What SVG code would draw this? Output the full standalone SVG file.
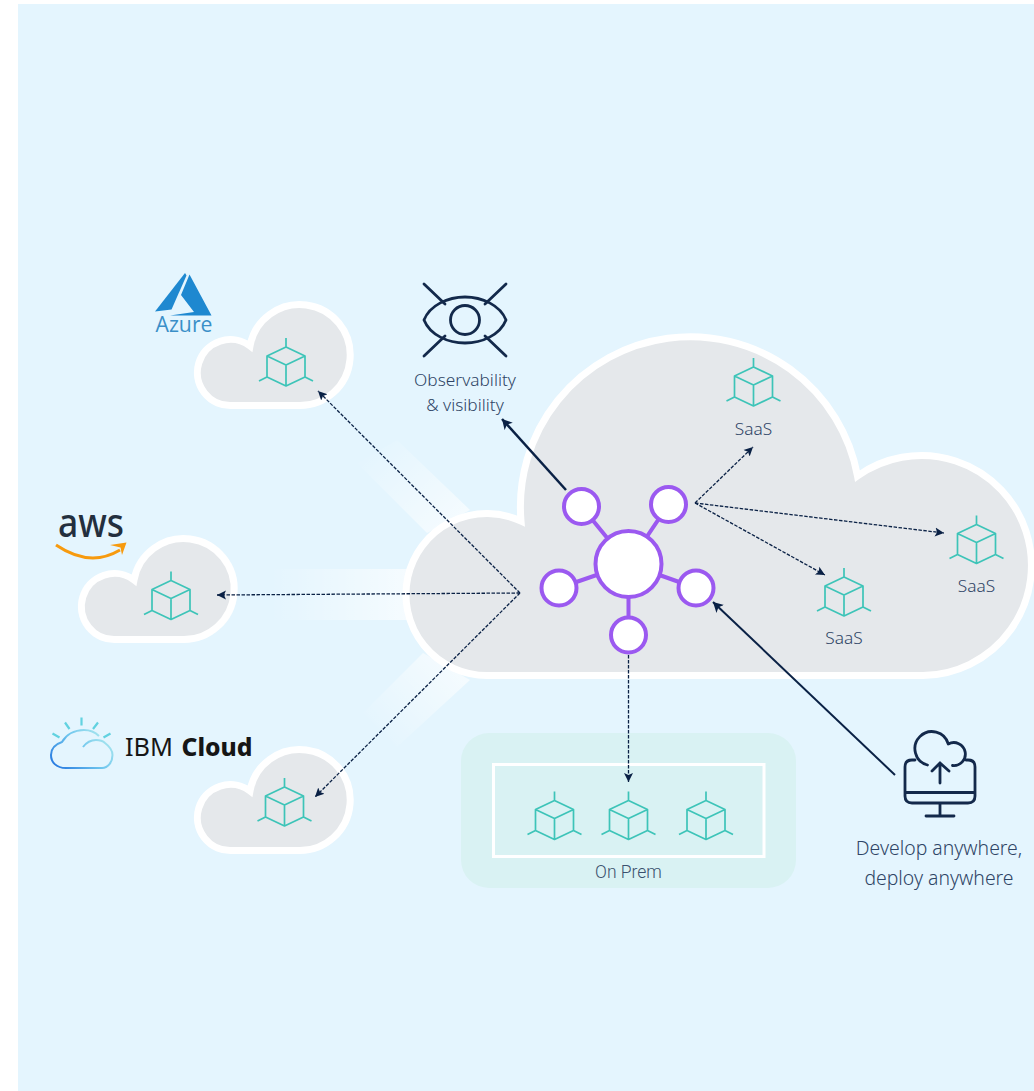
<svg xmlns="http://www.w3.org/2000/svg" width="1034" height="1091" viewBox="0 0 1034 1091">
<style>
.lbl{font-family:"Noto Sans","Open Sans",sans-serif;font-weight:300;fill:#2f4566;text-anchor:middle}
.cloud{fill:#e5e8eb;stroke:#fff;stroke-width:7;stroke-miterlimit:10}
.cube{fill:none;stroke:#3dc4b8;stroke-width:1.7;stroke-linejoin:round}
.dash{fill:none;stroke:#0a2145;stroke-width:1.3;stroke-dasharray:3.5 1.5}
.solid{fill:none;stroke:#0a2145}
.hub{fill:#fff;stroke:#9b59f0;stroke-width:4}
.spoke{stroke:#9b59f0;stroke-width:4;fill:none}
.icon{fill:none;stroke:#13294b;stroke-width:2.8;stroke-linecap:round;stroke-linejoin:round}
</style>
<defs>
<marker id="ah" markerUnits="userSpaceOnUse" markerWidth="12" markerHeight="12" refX="9" refY="5" orient="auto"><path d="M9 5L0 0.5L2 5L0 9.5Z" fill="#0a2145"/></marker>
<marker id="ahs" markerUnits="userSpaceOnUse" markerWidth="14" markerHeight="14" refX="10" refY="6" orient="auto"><path d="M10 6L0 0.5L2.5 6L0 11.5Z" fill="#0a2145"/></marker>
<g id="cube" class="cube"><path d="M0-27V-18L19-9V12L0 21L-19 12V-9L0-18M-19-9L0 0L19-9M0 0V21M-19 12L-27 16M19 12L27 16"/></g>
<path id="sc" class="cloud" d="M232 405.500A33 33 0 1 1 250 346A50.500 50.500 0 1 1 298 405.500Z"/>
<linearGradient id="gh" gradientUnits="userSpaceOnUse" x1="270" y1="0" x2="410" y2="0"><stop offset="0" stop-color="#fff" stop-opacity="0"/><stop offset="1" stop-color="#fff" stop-opacity=".65"/></linearGradient>
<linearGradient id="gu" gradientUnits="userSpaceOnUse" x1="370" y1="445" x2="450" y2="525"><stop offset="0" stop-color="#fff" stop-opacity="0"/><stop offset="1" stop-color="#fff" stop-opacity=".6"/></linearGradient>
<linearGradient id="gd" gradientUnits="userSpaceOnUse" x1="375" y1="735" x2="450" y2="665"><stop offset="0" stop-color="#fff" stop-opacity="0"/><stop offset="1" stop-color="#fff" stop-opacity=".6"/></linearGradient>
<linearGradient id="gi" gradientUnits="userSpaceOnUse" x1="60" y1="770" x2="100" y2="730"><stop offset="0" stop-color="#2a7de1"/><stop offset=".55" stop-color="#6fc6ee"/><stop offset="1" stop-color="#a8e6ee"/></linearGradient>
</defs>
<rect width="1034" height="1091" fill="#fff"/>
<rect x="18" y="4" width="1016" height="1087" fill="#e4f5fe"/>
<g id="glow">
<path d="M270 569H412V620H270Z" fill="url(#gh)"/>
<path d="M470 510L427 533L357 463L397 440Z" fill="url(#gu)"/>
<path d="M470 680L423 653L363 713L397 747Z" fill="url(#gd)"/>
</g>
<g id="main-cloud"><path class="cloud" d="M487 675.500A81 81 0 1 1 521 521A169.950 169.950 0 0 1 857.500 476A110 110 0 1 1 923 675.500Z"/></g>
<g id="azure-cloud"><use href="#sc"/><use href="#cube" x="286" y="365"/></g>
<g id="aws-cloud"><use href="#sc" x="-116" y="234"/><use href="#cube" x="171" y="598.500"/></g>
<g id="ibm-cloud"><use href="#sc" y="445"/><use href="#cube" x="284.500" y="805"/></g>
<g id="azure-logo">
<path d="M185 273L155 311.500L171.500 309.500L186.500 275.500Z" fill="#1e88d0"/>
<path d="M189.500 274.500L211.500 315.500L170 315.500L194 312L181 295Z" fill="#1e88d0"/>
<text x="184" y="332" font-family="'Open Sans','Noto Sans',sans-serif" font-size="21" fill="#3a8fc8" text-anchor="middle" textLength="57" lengthAdjust="spacingAndGlyphs">Azure</text>
</g>
<g id="aws-logo">
<text x="58" y="537" font-family="'Noto Sans','Open Sans',sans-serif" font-size="40" font-weight="500" fill="#232f3e" textLength="66" lengthAdjust="spacingAndGlyphs">aws</text>
<path d="M56 545Q90 568 120 550" fill="none" stroke="#f79a0e" stroke-width="3"/>
<path d="M110 545L126.500 542.500L122 555L120.500 547.500Z" fill="#f79a0e"/>
</g>
<g id="ibm-logo">
<path d="M66 768C56 768 51 762 51 755C51 748 56 744 62 742C66 735 74 730 84 730C90 730 96 733 99 736M83 747C86 743 90 740 96 740C100 740 103 741 105 743C109 746 112.500 750 112.500 755C112.500 762 108 768 102 768H66" fill="none" stroke="url(#gi)" stroke-width="2"/>
<path d="M52.500 733.500L59.500 737.500M65 722.500L69.500 729M81.500 717.500V725.500M98 722.500L93 729M110.500 733.500L103.500 737.500" fill="none" stroke="#62d2e0" stroke-width="2.200"/>
<text x="125" y="755.500" font-family="'Noto Sans',sans-serif" font-size="25" fill="#161616" textLength="48" lengthAdjust="spacingAndGlyphs">IBM</text>
<text x="181.500" y="755.500" font-family="'Noto Sans',sans-serif" font-size="25" font-weight="800" fill="#161616" textLength="71" lengthAdjust="spacingAndGlyphs">Cloud</text>
</g>
<g id="observability">
<path class="icon" d="M424 320C430 305 448 297 465 297C482 297 500 305 506 320C500 335 482 343 465 343C448 343 430 335 424 320Z"/>
<circle class="icon" cx="465" cy="320" r="14.500"/>
<path class="icon" d="M424 284L445 304M506 284L485 304M424 356L445 336M506 356L485 336"/>
<text class="lbl" x="465" y="386" font-size="17.300">Observability</text>
<text class="lbl" x="465" y="411" font-size="17.300">&amp; visibility</text>
</g>
<g id="saas-top"><use href="#cube" x="753.500" y="385"/><text class="lbl" x="753.500" y="435" font-size="17.300">SaaS</text></g>
<g id="saas-right"><use href="#cube" x="976.500" y="542.500"/><text class="lbl" x="976.500" y="592" font-size="17.300">SaaS</text></g>
<g id="saas-lower"><use href="#cube" x="844" y="595"/><text class="lbl" x="844" y="644" font-size="17.300">SaaS</text></g>
<g id="on-prem">
<rect x="461" y="733" width="335" height="155" rx="28" fill="#d9f2f3"/>
<rect x="493.500" y="764.500" width="270.500" height="92" fill="none" stroke="#fff" stroke-width="3"/>
<use href="#cube" x="554.500" y="818.500"/><use href="#cube" x="628.500" y="818.500"/><use href="#cube" x="706" y="818.500"/>
<text x="628.500" y="878" font-family="Roboto,sans-serif" font-size="17.500" font-weight="300" fill="#3a506e" text-anchor="middle">On Prem</text>
</g>
<g id="develop">
<path class="icon" d="M915 760H912Q905 760 905 767V796Q905 803 912 803H968Q975 803 975 796V767Q975 760 968 760H966M905 792.500H975M940 803V816M926 816H954M927.500 765A17 17 0 1 1 948.300 744A11.500 11.500 0 1 1 952.500 765.500M940 783V763M932 771L940 763L949 771"/>
<text class="lbl" x="939" y="855" font-size="19.400">Develop anywhere,</text>
<text class="lbl" x="939" y="885" font-size="19.400">deploy anywhere</text>
</g>
<g id="connectors">
<path class="dash" marker-end="url(#ah)" d="M520 593L318 391"/>
<path class="dash" marker-end="url(#ah)" d="M520 593L217 595"/>
<path class="dash" marker-end="url(#ah)" d="M520 593L315 797"/>
<path class="dash" marker-end="url(#ah)" d="M695 503L753 447"/>
<path class="dash" marker-end="url(#ah)" d="M695 503L944 533"/>
<path class="dash" marker-end="url(#ah)" d="M695 503L825 575"/>
<path class="dash" marker-end="url(#ah)" d="M628.500 655V782"/>
<path class="solid" stroke-width="2.500" marker-end="url(#ahs)" d="M566 490L502 419"/>
<path class="solid" stroke-width="2" marker-end="url(#ahs)" d="M895 775L713 602"/>
</g>
<g id="hub">
<path class="spoke" d="M628.500 564L581.500 506.500M628.500 564L668.500 504.500M628.500 564L559 588M628.500 564L696 588M628.500 564V635"/>
<circle class="hub" cx="628.500" cy="564" r="33"/>
<circle class="hub" cx="581.500" cy="506.500" r="17.500"/>
<circle class="hub" cx="668.500" cy="504.500" r="17.500"/>
<circle class="hub" cx="559" cy="588" r="17.500"/>
<circle class="hub" cx="696" cy="588" r="17.500"/>
<circle class="hub" cx="628.500" cy="635" r="17.500"/>
</g>
</svg>
